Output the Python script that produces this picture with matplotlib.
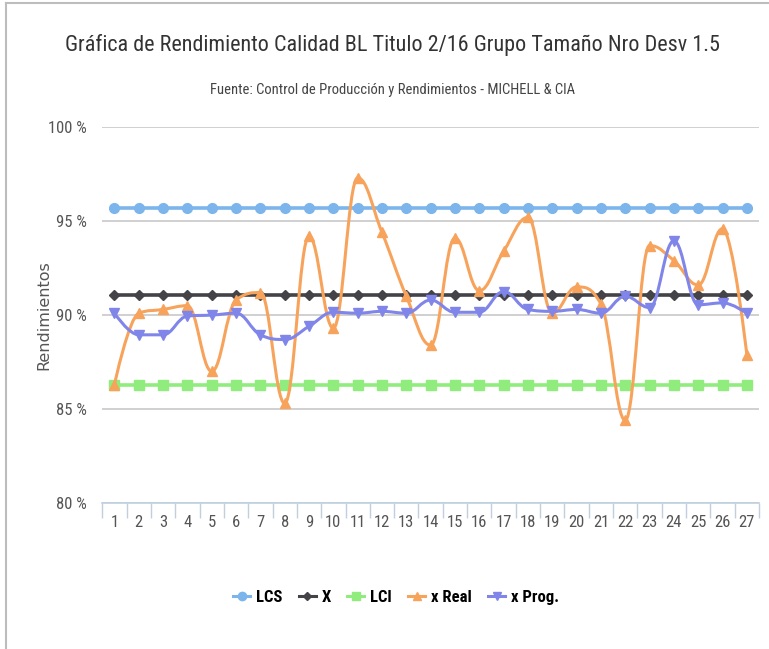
import matplotlib

matplotlib.use("Agg")
import matplotlib.pyplot as plt
import numpy as np
from matplotlib.lines import Line2D
from matplotlib.path import Path
from matplotlib.patches import PathPatch

plt.rcParams["font.family"] = ["Roboto Condensed", "Liberation Sans Narrow",
                               "Liberation Sans", "DejaVu Sans"]

# Data
lotes = list(range(1, 28))
lcs = [95.7] * 27
x_media = [91.05] * 27
lci = [86.3] * 27
x_real = [86.3, 90.1, 90.3, 90.5, 87.0, 90.8, 91.2, 85.3, 94.2, 89.3,
          97.3, 94.4, 91.0, 88.4, 94.1, 91.3, 93.4, 95.2, 90.1, 91.5,
          90.6, 84.4, 93.7, 92.9, 91.6, 94.6, 87.9]
x_prog = [90.1, 88.95, 88.95, 89.95, 90.0, 90.1, 88.95, 88.7, 89.4, 90.15,
          90.1, 90.2, 90.1, 90.8, 90.15, 90.15, 91.25, 90.3, 90.2, 90.3,
          90.1, 91.0, 90.4, 93.95, 90.55, 90.65, 90.1]
y_ticks = [80, 85, 90, 95, 100]

colores = {"LCS": "#7cb5ec", "X": "#434348", "LCI": "#90ed7d",
           "x Real": "#f7a35c", "x Prog.": "#8085e9"}


def spline_path(xs, ys):
    # Highcharts-style spline: cubic bezier segments between points
    xs = np.asarray(xs, float)
    ys = np.asarray(ys, float)
    n = len(xs)
    sm, den = 1.5, 2.5
    left = [None] * n
    right = [None] * n
    for i in range(n):
        if i == 0 or i == n - 1:
            left[i] = right[i] = (xs[i], ys[i])
            continue
        px, py = xs[i], ys[i]
        lx, ly = xs[i - 1], ys[i - 1]
        nx, ny = xs[i + 1], ys[i + 1]
        lcx = (sm * px + lx) / den
        lcy = (sm * py + ly) / den
        rcx = (sm * px + nx) / den
        rcy = (sm * py + ny) / den
        if rcx != lcx:
            corr = (rcy - lcy) * (rcx - px) / (rcx - lcx) + py - rcy
            lcy += corr
            rcy += corr
        if lcy > ly and lcy > py:
            lcy = max(ly, py)
            rcy = 2 * py - lcy
        elif lcy < ly and lcy < py:
            lcy = min(ly, py)
            rcy = 2 * py - lcy
        if rcy > ny and rcy > py:
            rcy = max(ny, py)
            lcy = 2 * py - rcy
        elif rcy < ny and rcy < py:
            rcy = min(ny, py)
            lcy = 2 * py - rcy
        left[i] = (lcx, lcy)
        right[i] = (rcx, rcy)
    verts = [(xs[0], ys[0])]
    codes = [Path.MOVETO]
    for i in range(1, n):
        verts += [right[i - 1], left[i], (xs[i], ys[i])]
        codes += [Path.CURVE4] * 3
    return Path(verts, codes)


fig = plt.figure(figsize=(7.69, 6.49), dpi=100)
ax = fig.add_axes([0.133, 0.225, 0.854, 0.579])

series = [("LCS", lcs, "o", 7), ("X", x_media, "D", 5.5), ("LCI", lci, "s", 6.5),
          ("x Real", x_real, "^", 6.5), ("x Prog.", x_prog, "v", 6.5)]

handles = []
for z, (name, vals, mk, ms) in enumerate(series):
    c = colores[name]
    if name in ("x Real", "x Prog."):
        ax.add_patch(PathPatch(spline_path(lotes, vals), facecolor="none",
                               edgecolor=c, lw=2.2, zorder=3 + z))
    else:
        ax.plot(lotes, vals, color=c, lw=2.6, zorder=3 + z)
    ax.plot(lotes, vals, ls="none", marker=mk, ms=ms, color=c, mec=c,
            zorder=3 + z)
    handles.append(Line2D([], [], color=c, lw=2.2, marker=mk, ms=ms - 1,
                          label=name))

ax.set_xlim(0.5, 27.5)
ax.set_ylim(80, 100)
ax.set_yticks(y_ticks)
ax.set_yticklabels([f"{v} %" for v in y_ticks])
ax.set_xticks(lotes)
ax.set_xticks(np.arange(0.5, 28, 1), minor=True)
ax.tick_params(axis="x", which="major", length=0, pad=9,
               labelsize=12, labelcolor="#555555")
ax.tick_params(axis="x", which="minor", length=11, width=1, color="#c0d0e0")
ax.tick_params(axis="y", length=0, pad=11, labelsize=12,
               labelcolor="#555555")
ax.grid(axis="y", color="#c8c8c8", lw=1.2, zorder=0)
for s in ("top", "right", "left"):
    ax.spines[s].set_visible(False)
ax.spines["bottom"].set_color("#c0d0e0")
ax.spines["bottom"].set_linewidth(1.2)
ax.spines["bottom"].set_zorder(2)
ax.set_ylabel("Rendimientos", family="DejaVu Sans", fontsize=11.5,
              color="#555555")
ax.yaxis.set_label_coords(-0.078, 0.5)

fig.text(0.511, 0.930, "Gráfica de Rendimiento Calidad BL Titulo 2/16 Grupo Tamaño Nro Desv 1.5",
         ha="center", va="center", fontsize=15.9, color="#333333")
fig.text(0.511, 0.862, "Fuente: Control de Producción y Rendimientos - MICHELL & CIA",
         ha="center", va="center", fontsize=10.5, color="#444444")

fig.legend(handles=handles, loc="center", bbox_to_anchor=(0.515, 0.079),
           ncol=5, frameon=False, handlelength=1.0, handletextpad=0.35,
           columnspacing=1.0, prop={"weight": "bold", "size": 12})

# thin gray frame at top and left edges
fig.add_artist(Line2D([0.008, 1.0], [0.995, 0.995], color="#bdbdbd", lw=1.5,
                      transform=fig.transFigure))
fig.add_artist(Line2D([0.008, 0.008], [0.0, 0.995], color="#bdbdbd", lw=1.5,
                      transform=fig.transFigure))

fig.savefig("out.png", dpi=100)
